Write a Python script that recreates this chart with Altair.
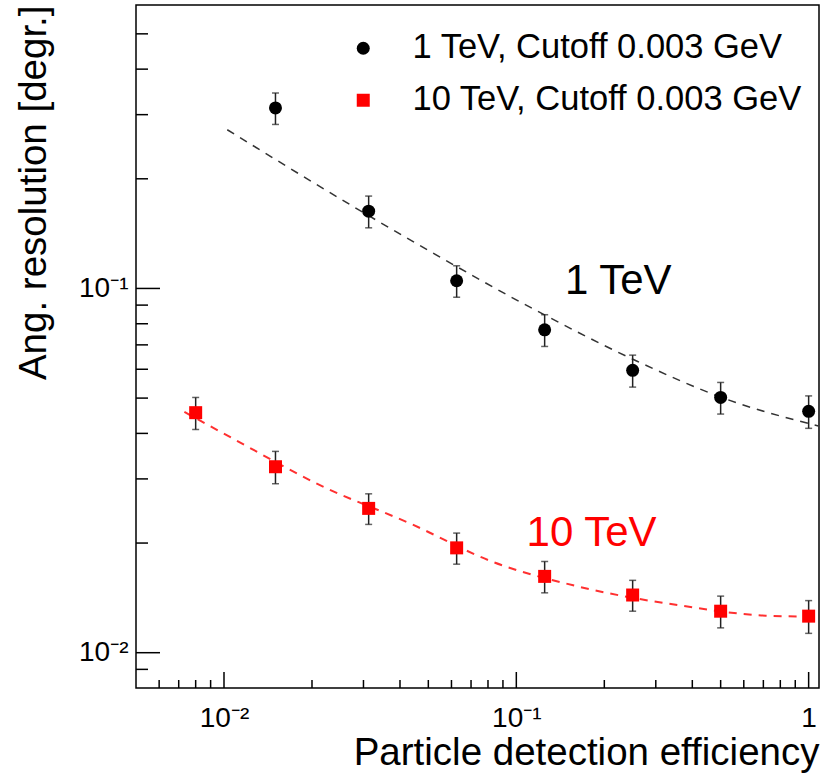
import altair as alt
import pandas as pd

FONT = "Liberation Sans"

# ---- data ----
series_names = ["1 TeV, Cutoff 0.003 GeV", "10 TeV, Cutoff 0.003 GeV"]
series_colors = ["black", "red"]
series_shapes = ["circle", "square"]

x_1tev = [0.015, 0.03125, 0.0625, 0.125, 0.25, 0.5, 1.0]
res_1tev = [0.313, 0.163, 0.105, 0.077, 0.0596, 0.0502, 0.0460]
err_1tev = [0.031, 0.0163, 0.0104, 0.0077, 0.0060, 0.0050, 0.0047]

x_10tev = [0.008, 0.015, 0.03125, 0.0625, 0.125, 0.25, 0.5, 1.0]
res_10tev = [0.0456, 0.0324, 0.0249, 0.0194, 0.0162, 0.0144, 0.0130, 0.0126]
err_10tev = [0.0046, 0.0033, 0.0024, 0.0019, 0.0016, 0.0014, 0.0013, 0.0013]

fit_1tev_x = [0.01026, 0.028, 0.0711, 0.0878, 0.1235, 0.258, 0.525, 1.08]
fit_1tev_y = [0.2727, 0.1669, 0.1083, 0.0985, 0.0850, 0.0632, 0.0496, 0.0419]

fit_10tev_x = [0.00732, 0.01106, 0.02112, 0.04397, 0.0833, 0.1565, 0.3747, 0.7136, 1.067]
fit_10tev_y = [0.0458, 0.0382, 0.02893, 0.02251, 0.01774, 0.01531, 0.01343, 0.01264, 0.01256]

x_major_ticks = [0.01, 0.1, 1.0]
x_minor_ticks = [0.006, 0.007, 0.008, 0.009,
                 0.02, 0.03, 0.04, 0.05, 0.06, 0.07, 0.08, 0.09,
                 0.2, 0.3, 0.4, 0.5, 0.6, 0.7, 0.8, 0.9]
y_major_ticks = [0.01, 0.1]
y_minor_ticks = [0.009, 0.02, 0.03, 0.04, 0.05, 0.06, 0.07, 0.08, 0.09,
                 0.2, 0.3, 0.4, 0.5]

note_texts = ["1 TeV", "10 TeV"]
note_x = [0.1466, 0.1084]
note_y = [0.0965, 0.01963]
note_colors = ["black", "red"]

x_domain = [0.005, 1.085]
y_domain = [0.008, 0.6]

W, H = 683, 683

# ---- tables ----
pts = pd.concat([
    pd.DataFrame({"x": x_1tev, "y": res_1tev, "err": err_1tev, "series": series_names[0]}),
    pd.DataFrame({"x": x_10tev, "y": res_10tev, "err": err_10tev, "series": series_names[1]}),
], ignore_index=True)
pts["lo"] = pts["y"] - pts["err"]
pts["hi"] = pts["y"] + pts["err"]

fit1 = pd.DataFrame({"x": fit_1tev_x, "y": fit_1tev_y})
fit10 = pd.DataFrame({"x": fit_10tev_x, "y": fit_10tev_y})
notes = pd.DataFrame({"x": note_x, "y": note_y, "t": note_texts, "c": note_colors})

xs = alt.Scale(type="log", domain=x_domain, nice=False)
ys = alt.Scale(type="log", domain=y_domain, nice=False)

x_axis = alt.Axis(
    values=x_major_ticks,
    labelExpr="datum.value > 0.5 ? '1' : (datum.value > 0.05 ? '10⁻¹' : '10⁻²')",
    title="Particle detection efficiency",
    titleAnchor="end", titleAlign="right", titleBaseline="alphabetic",
    titleX=W, titleY=76,
    labelPadding=38, labelBaseline="alphabetic", labelFlush=False, labelOverlap=False,
)
y_axis = alt.Axis(
    values=y_major_ticks,
    labelExpr="datum.value > 0.05 ? '10⁻¹' : '10⁻²'",
    title="Ang. resolution [degr.]",
    titleAngle=270, titleAnchor="end", titleAlign="right", titleBaseline="alphabetic",
    titleX=-91, titleY=0,
    labelPadding=8, labelBaseline="middle", labelFlush=False, labelOverlap=False,
)

X = alt.X("x:Q", scale=xs, axis=x_axis)
Y = alt.Y("y:Q", scale=ys, axis=y_axis)

line1 = alt.Chart(fit1).mark_line(color="#333333", strokeWidth=1.5, strokeDash=[8, 7],
                                  interpolate="monotone").encode(x=X, y=Y)
line10 = alt.Chart(fit10).mark_line(color="#ff3030", strokeWidth=2, strokeDash=[8, 7],
                                    interpolate="monotone").encode(x=X, y=Y)

err_rule = alt.Chart(pts).mark_rule(color="#222222", strokeWidth=1.5).encode(
    x=X, y=alt.Y("lo:Q", scale=ys, axis=y_axis), y2="hi:Q")
cap_lo = alt.Chart(pts).mark_tick(orient="horizontal", color="#222222", size=7, thickness=1.5).encode(
    x=X, y=alt.Y("lo:Q", scale=ys, axis=y_axis))
cap_hi = alt.Chart(pts).mark_tick(orient="horizontal", color="#222222", size=7, thickness=1.5).encode(
    x=X, y=alt.Y("hi:Q", scale=ys, axis=y_axis))

points = alt.Chart(pts).mark_point(filled=True, opacity=1, size=169, strokeWidth=0).encode(
    x=X, y=Y,
    color=alt.Color("series:N", scale=alt.Scale(domain=series_names, range=series_colors), title=None),
    shape=alt.Shape("series:N", scale=alt.Scale(domain=series_names, range=series_shapes), title=None),
)

xmaj = alt.Chart(pd.DataFrame({"x": x_major_ticks})).mark_rule(color="black", strokeWidth=1.5).encode(
    x=X, y=alt.value(H), y2=alt.value(H - 16))
xmin = alt.Chart(pd.DataFrame({"x": x_minor_ticks})).mark_rule(color="black", strokeWidth=1.5).encode(
    x=X, y=alt.value(H), y2=alt.value(H - 8))
ymaj = alt.Chart(pd.DataFrame({"y": y_major_ticks})).mark_rule(color="black", strokeWidth=1.5).encode(
    y=Y, x=alt.value(0), x2=alt.value(24))
ymin = alt.Chart(pd.DataFrame({"y": y_minor_ticks})).mark_rule(color="black", strokeWidth=1.5).encode(
    y=Y, x=alt.value(0), x2=alt.value(12))

note_layer = alt.Chart(notes).mark_text(font=FONT, fontSize=42, align="left",
                                        baseline="alphabetic").encode(
    x=X, y=Y, text="t:N", color=alt.Color("c:N", scale=None))

chart = alt.layer(
    line1, line10, err_rule, cap_lo, cap_hi, points, xmaj, xmin, ymaj, ymin, note_layer
).properties(
    width=W, height=H,
    padding={"left": 136, "top": 5, "right": 5, "bottom": 85},
    autosize=alt.AutoSizeParams(type="none"),
    background="white",
).configure_view(
    stroke="black", strokeWidth=1.5
).configure_axis(
    labelFont=FONT, titleFont=FONT, labelFontSize=28, titleFontSize=38.5,
    labelColor="black", titleColor="black", titleFontWeight="normal",
    grid=False, ticks=False, domain=False,
).configure_legend(
    orient="none", legendX=210, legendY=26, padding=0,
    labelFont=FONT, labelFontSize=34.5, labelColor="black", labelLimit=700,
    symbolSize=169, symbolStrokeWidth=0, labelOffset=32, rowPadding=17,
)

chart.save("out.html", embed_options={"renderer": "svg", "actions": False})
